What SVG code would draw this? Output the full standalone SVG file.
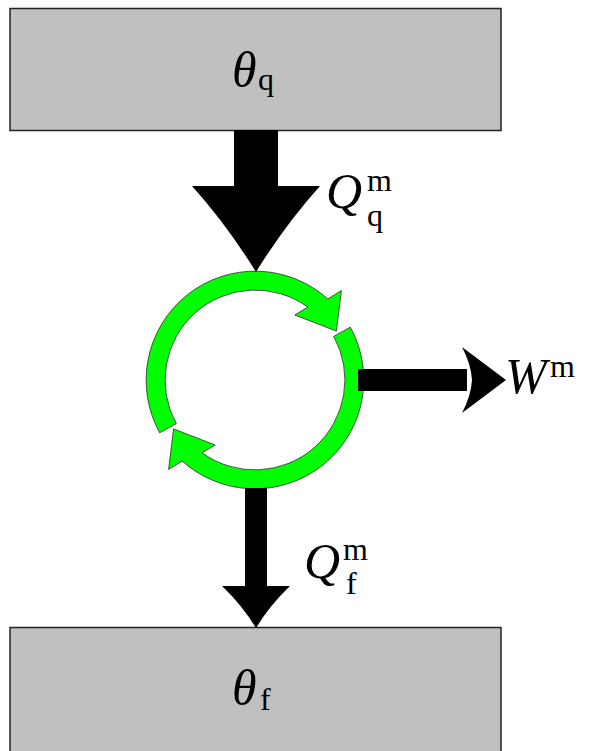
<svg xmlns="http://www.w3.org/2000/svg" width="598" height="751" viewBox="0 0 598 751">
<style>
.box{fill:#c0c0c0;stroke:#222;stroke-width:1.5}
.arrow{fill:#000;stroke:none}
.ring{fill:#00ff00;stroke:#2a2a2a;stroke-width:0.8;stroke-linejoin:miter}
.it{font-family:"Liberation Serif","DejaVu Serif",serif;font-style:italic;fill:#000}
.rm{font-family:"Liberation Serif","DejaVu Serif",serif;fill:#000}
.big{font-size:50px}
.sm{font-size:32px}
</style>
<rect width="598" height="751" fill="#fff"/>
<g id="reservoir-hot">
<rect class="box" x="10" y="8.5" width="491" height="122"/>
<text class="it big" x="232" y="87">θ</text><text class="rm sm" x="258" y="90">q</text>
</g>
<g id="reservoir-cold">
<rect class="box" x="10" y="627.5" width="491" height="130"/>
<text class="it big" x="232" y="705">θ</text><text class="rm sm" x="260" y="710">f</text>
</g>
<g id="cycle">
<path class="ring" d="M159.7,432.8 A109 109 0 0 1 327.9,299.0 L341.4,290.5 L336.4,331.1 L294.8,315.0 L307.9,307.2 A90 90 0 0 0 176.3,423.6 Z"/>
<path class="ring" d="M350.3,327.2 A109 109 0 0 1 182.1,461.0 L168.6,469.5 L173.6,428.9 L215.2,445.0 L202.1,452.8 A90 90 0 0 0 333.7,336.4 Z"/>
</g>
<g id="connectors">
<g id="heat-in">
<rect class="arrow" x="234" y="130" width="44" height="58"/>
<path class="arrow" d="M192,186 L320,186 Q285,225 256,272 Q227,225 192,186 Z"/>
</g>
<g id="work-out">
<rect class="arrow" x="358" y="369" width="109" height="22"/>
<path class="arrow" d="M462,347 L506,380 L462,413 Q471,396 472,380 Q471,364 462,347 Z"/>
</g>
<g id="heat-out">
<rect class="arrow" x="245" y="488" width="22" height="101"/>
<path class="arrow" d="M222,586 L290,586 Q270,605 256,628 Q242,605 222,586 Z"/>
</g>
</g>
<g id="labels">
<text class="it big" x="326" y="208">Q</text><text class="rm sm" x="367" y="191">m</text><text class="rm sm" x="367" y="226">q</text>
<text class="it big" x="505" y="393">W</text><text class="rm sm" x="550" y="377">m</text>
<text class="it big" x="304" y="578">Q</text><text class="rm sm" x="343" y="560">m</text><text class="rm sm" x="346" y="594">f</text>
</g>
</svg>
